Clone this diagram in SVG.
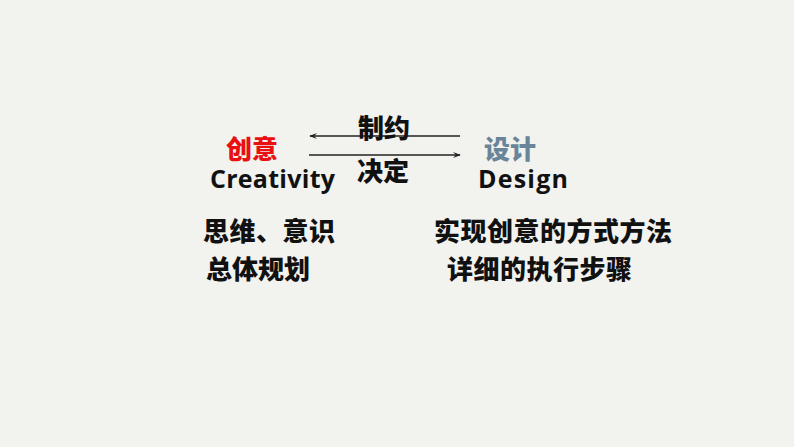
<svg xmlns="http://www.w3.org/2000/svg" width="794" height="447" viewBox="0 0 794 447">
<defs>
<style>
.cjk{font-family:"Noto Sans CJK SC","Noto Sans",sans-serif;font-weight:900;font-size:26px;fill:#111}
.lat{font-family:"Open Sans","Liberation Sans",sans-serif;font-weight:bold;font-size:25px;fill:#111}
.ln{stroke:#222;stroke-width:1.4;fill:none}
</style>
<marker id="ah" viewBox="0 0 10 10" refX="9" refY="5" markerWidth="8" markerHeight="8" orient="auto-start-reverse" markerUnits="userSpaceOnUse">
<path d="M0,1 L10,5 L0,9 L4,5 Z" fill="#222"/>
</marker>
</defs>
<rect width="794" height="447" fill="#f2f2ee"/>
<g id="connectors">
<line class="ln" x1="460" y1="136" x2="310" y2="136" marker-end="url(#ah)"/>
<line class="ln" x1="309" y1="155" x2="460" y2="155" marker-end="url(#ah)"/>
<text class="cjk" x="358" y="138" textLength="52">制约</text>
<text class="cjk" x="357" y="181" textLength="52">决定</text>
</g>
<g id="creativity">
<text class="cjk" x="226" y="159" style="fill:#e81010" textLength="52">创意</text>
<text class="lat" x="210" y="188" textLength="125">Creativity</text>
</g>
<g id="design">
<text class="cjk" x="484" y="159" style="fill:#6a8599" textLength="52">设计</text>
<text class="lat" x="478" y="188" textLength="90">Design</text>
</g>
<g id="creativity-notes">
<text class="cjk" x="203" y="241" textLength="132">思维、意识</text>
<text class="cjk" x="206" y="279" textLength="104">总体规划</text>
</g>
<g id="design-notes">
<text class="cjk" x="434" y="241" textLength="238">实现创意的方式方法</text>
<text class="cjk" x="447" y="279" textLength="185">详细的执行步骤</text>
</g>
</svg>
